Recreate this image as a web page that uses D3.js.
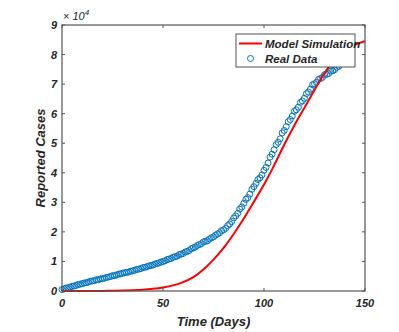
<!DOCTYPE html>
<html>
<head>
<meta charset="utf-8">
<script src="https://cdn.jsdelivr.net/npm/d3@7"></script>
<style>
  body { margin: 0; background: #fff; }
  text { font-family: "Liberation Sans", Arial, sans-serif; font-weight: bold; font-style: italic; fill: #262626; }
</style>
</head>
<body>
<script>
const width = 399
const height = 332

// reported cases (x10^4), one per day starting at day 0
const realData = [
  0.05, 0.07, 0.10, 0.11, 0.13, 0.16, 0.17, 0.19, 0.22, 0.23,
  0.25, 0.27, 0.28, 0.30, 0.33, 0.34, 0.35, 0.38, 0.38, 0.41,
  0.42, 0.43, 0.46, 0.47, 0.49, 0.52, 0.52, 0.54, 0.57, 0.58,
  0.60, 0.62, 0.63, 0.64, 0.67, 0.68, 0.70, 0.73, 0.74, 0.76,
  0.79, 0.80, 0.82, 0.85, 0.86, 0.88, 0.91, 0.93, 0.95, 0.98,
  1.00, 1.02, 1.06, 1.08, 1.10, 1.14, 1.16, 1.18, 1.23, 1.25,
  1.27, 1.32, 1.34, 1.37, 1.43, 1.46, 1.49, 1.54, 1.57, 1.60,
  1.66, 1.68, 1.70, 1.76, 1.80, 1.83, 1.89, 1.93, 1.97, 2.04,
  2.07, 2.12, 2.21, 2.27, 2.35, 2.47, 2.54, 2.63, 2.77, 2.84,
  2.97, 3.10, 3.16, 3.28, 3.44, 3.53, 3.64, 3.77, 3.83, 3.93,
  4.08, 4.18, 4.33, 4.53, 4.63, 4.78, 4.95, 5.03, 5.15, 5.35,
  5.43, 5.56, 5.73, 5.80, 5.92, 6.08, 6.13, 6.22, 6.38, 6.43,
  6.52, 6.68, 6.73, 6.83, 6.98, 7.01, 7.06, 7.16, 7.19, 7.23,
  7.32, 7.33, 7.36, 7.44, 7.45, 7.49, 7.57, 7.60
]

// model simulation, sampled every 5 days
const modelDays = [0, 5, 10, 15, 20, 25, 30, 35, 40, 45, 50, 55, 60, 65, 70, 75, 80, 85, 90, 95, 100,
  105, 110, 115, 120, 125, 130, 135, 140, 145, 150]
const modelCases = [0, 0, 0, 0.002, 0.004, 0.008, 0.015, 0.027, 0.045, 0.075, 0.12, 0.19, 0.3, 0.47, 0.73, 1.06, 1.46, 1.93, 2.45, 3.02, 3.6,
  4.25, 4.95, 5.6, 6.2, 6.8, 7.38, 7.83, 8.13, 8.33, 8.45]

const xTicks = [0, 50, 100, 150]
const yTicks = [0, 1, 2, 3, 4, 5, 6, 7, 8, 9]

const margin = { left: 62, right: 34, top: 25, bottom: 41 }
const plotW = width - margin.left - margin.right
const plotH = height - margin.top - margin.bottom

const svg = d3.select('body').append('svg')
  .attr('width', width)
  .attr('height', height)

const x = d3.scaleLinear().domain([0, 150]).range([margin.left, margin.left + plotW])
const y = d3.scaleLinear().domain([0, 9]).range([margin.top + plotH, margin.top])

const axisColor = '#555'

// ticks inside the box, on all four sides
const tickLen = 3
const g = svg.append('g')
xTicks.forEach(t => {
  g.append('line').attr('x1', x(t)).attr('x2', x(t))
    .attr('y1', y(0)).attr('y2', y(0) - tickLen).attr('stroke', axisColor)
  g.append('line').attr('x1', x(t)).attr('x2', x(t))
    .attr('y1', y(9)).attr('y2', y(9) + tickLen).attr('stroke', axisColor)
  g.append('text').attr('x', x(t)).attr('y', y(0) + 16)
    .attr('text-anchor', 'middle').attr('font-size', 11).text(t)
})
yTicks.forEach(t => {
  g.append('line').attr('x1', x(0)).attr('x2', x(0) + tickLen)
    .attr('y1', y(t)).attr('y2', y(t)).attr('stroke', axisColor)
  g.append('line').attr('x1', x(150)).attr('x2', x(150) - tickLen)
    .attr('y1', y(t)).attr('y2', y(t)).attr('stroke', axisColor)
  g.append('text').attr('x', x(0) - 5).attr('y', y(t) + 4)
    .attr('text-anchor', 'end').attr('font-size', 11).text(t)
})

// data circles
svg.append('g').selectAll('circle')
  .data(realData)
  .join('circle')
  .attr('cx', (d, i) => x(i))
  .attr('cy', d => y(d))
  .attr('r', 3)
  .attr('fill', 'none')
  .attr('stroke', '#0072BD')
  .attr('stroke-width', 1)

// model line
const line = d3.line()
  .x(d => x(d[0]))
  .y(d => y(d[1]))
  .curve(d3.curveCatmullRom.alpha(0.5))

svg.append('path')
  .datum(modelDays.map((d, i) => [d, modelCases[i]]))
  .attr('d', line)
  .attr('fill', 'none')
  .attr('stroke', '#FF0000')
  .attr('stroke-width', 2)

// box
svg.append('rect')
  .attr('x', margin.left).attr('y', margin.top)
  .attr('width', plotW).attr('height', plotH)
  .attr('fill', 'none').attr('stroke', axisColor).attr('stroke-width', 1.2)

// exponent label
const ex = svg.append('text').attr('x', margin.left + 1).attr('y', margin.top - 5)
  .attr('font-size', 11)
ex.append('tspan').attr('font-style', 'normal').attr('font-weight', 'normal').text('\u00d7 ')
ex.append('tspan').attr('font-weight', 'normal').text('10')
ex.append('tspan').attr('font-size', 8).attr('font-weight', 'normal').attr('dy', -5).text('4')

// axis titles
svg.append('text')
  .attr('x', x(75)).attr('y', 326)
  .attr('text-anchor', 'middle').attr('font-size', 13)
  .text('Time (Days)')
svg.append('text')
  .attr('transform', `translate(45,${y(4.5)}) rotate(-90)`)
  .attr('text-anchor', 'middle').attr('font-size', 13)
  .text('Reported Cases')

// legend
const lg = svg.append('g').attr('transform', 'translate(236,34)')
lg.append('rect').attr('width', 119).attr('height', 33)
  .attr('fill', '#fff').attr('stroke', '#262626').attr('stroke-width', 0.8)
lg.append('line').attr('x1', 3).attr('x2', 26).attr('y1', 9.5).attr('y2', 9.5)
  .attr('stroke', '#FF0000').attr('stroke-width', 2)
lg.append('text').attr('x', 29).attr('y', 14).attr('font-size', 11.5).text('Model Simulation')
lg.append('circle').attr('cx', 14.5).attr('cy', 24.5).attr('r', 3)
  .attr('fill', 'none').attr('stroke', '#0072BD')
lg.append('text').attr('x', 29).attr('y', 29).attr('font-size', 11.5).text('Real Data')
</script>
</body>
</html>
